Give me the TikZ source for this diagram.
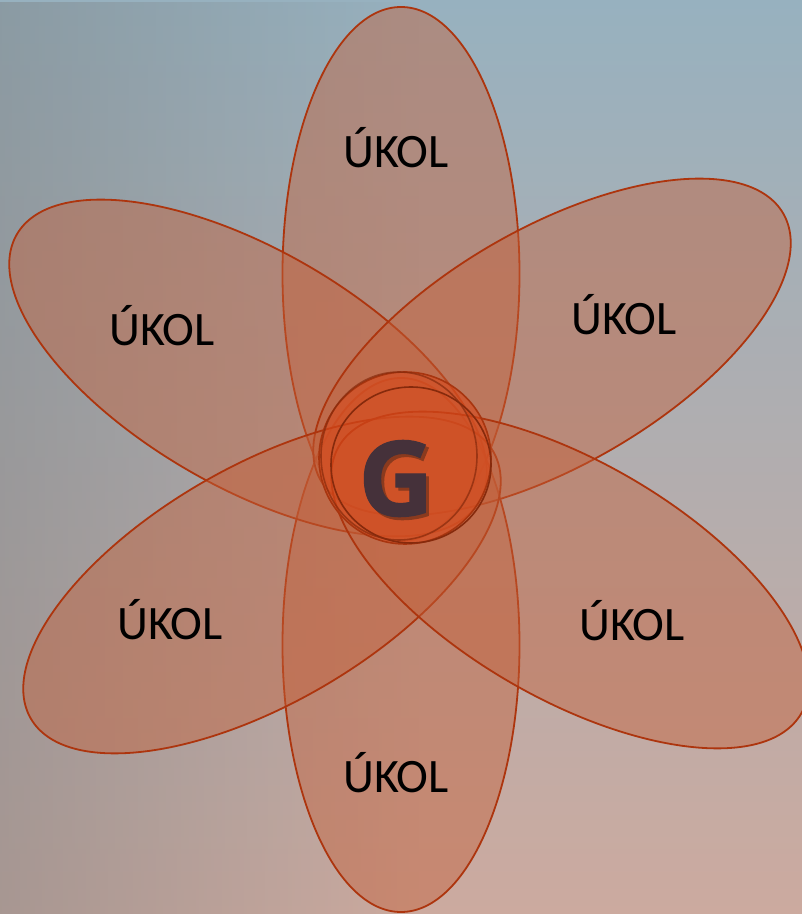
\documentclass[tikz,border=0pt]{standalone}
\usepackage{fontspec}
\setmainfont{Carlito}
\newfontfamily\gfont{Open Sans}
\usetikzlibrary{fadings}
\definecolor{bgtop}{HTML}{97B1BF}
\definecolor{bgmid}{HTML}{A0A3A8}
\definecolor{bgbot}{HTML}{CCAA9F}
\definecolor{bgleft}{HTML}{7C8082}
\definecolor{petalfill}{HTML}{C4603A}
\definecolor{petalline}{HTML}{AD350E}
\definecolor{corefill}{HTML}{D9481A}
\definecolor{coreline}{HTML}{A8350F}
\definecolor{gtext}{HTML}{45313A}
\definecolor{gshadow}{HTML}{8A3A1E}
\tikzset{
  petal/.style={fill=petalfill, fill opacity=0.45, draw=petalline, line width=1.8pt},
  core/.style={fill=corefill, fill opacity=0.6, draw=coreline, line width=1.6pt},
  coreline2/.style={draw=coreline!80!black, line width=1.6pt},
  label/.style={font=\fontsize{48}{52}\selectfont, text=black, inner sep=0pt},
  gstyle/.style={font=\gfont\bfseries\addfontfeature{FakeBold=1.2}\fontsize{104}{104}\selectfont, inner sep=0pt},
}
\begin{document}
\begin{tikzpicture}[x=1pt,y=1pt]
\useasboundingbox (0,0) rectangle (802,914);
% background
\fill[top color=bgtop, middle color=bgmid, bottom color=bgbot] (0,0) rectangle (802,914);
\fill[bgleft, opacity=0.45, path fading=east] (0,0) rectangle (420,914);
% petals
\draw[petal] (401,640) ellipse (118.5 and 267);
\draw[petal] (401,269) ellipse (118.5 and 267);
\begin{scope}[shift={(248,546)}, rotate=-30]
  \draw[petal] (0,0) ellipse (267 and 118.5);
\end{scope}
\begin{scope}[shift={(552,567)}, rotate=30]
  \draw[petal] (0,0) ellipse (267 and 118.5);
\end{scope}
\begin{scope}[shift={(262,329)}, rotate=30]
  \draw[petal] (0,0) ellipse (267 and 118.5);
\end{scope}
\begin{scope}[shift={(570,334)}, rotate=-30]
  \draw[petal] (0,0) ellipse (267 and 118.5);
\end{scope}
% core
\draw[core] (405,456) circle (86);
\draw[coreline2] (411,449) ellipse (80 and 78);
\draw[coreline2, draw opacity=0.7] (399,458) ellipse (78 and 84);
% texts
\node[label] (t1) at (396,766) {ÚKOL};
\node[label] (t2) at (162,588) {ÚKOL};
\node[label] (t3) at (624,599) {ÚKOL};
\node[label] (t4) at (170,294) {ÚKOL};
\node[label] (t5) at (632,293) {ÚKOL};
\node[label] (t6) at (396,141) {ÚKOL};
\node[gstyle, text=gtext] (g) at (396,434)
  {\rlap{\kern3pt\raisebox{-3pt}{\color{gshadow}G}}G};
\end{tikzpicture}
\end{document}
